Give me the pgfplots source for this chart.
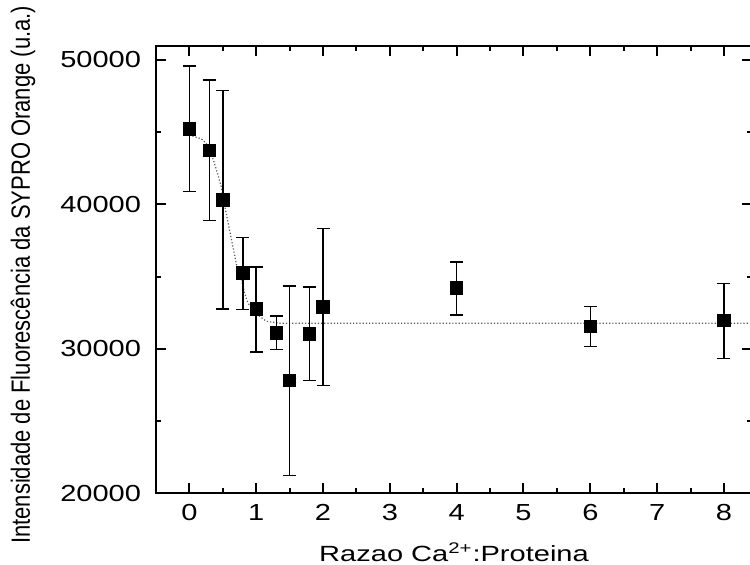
\documentclass[border=0pt]{standalone}
\usepackage{pgfplots}
\pgfplotsset{compat=1.18}
\usepackage{pgfplotstable}
\usepackage{fontspec}
\setmainfont{Liberation Sans}
\newfontfamily\tickfont[FakeStretch=1.25]{Liberation Sans}
\newfontfamily\xlabfont[FakeStretch=1.32]{Liberation Sans}
\usetikzlibrary{calc}

\pgfplotstableread{
x    y      ep    em
0    45230  4360  4340
0.3  43750  4850  4880
0.5  40320  7560  7560
0.8  35250  2460  2540
1.0  32760  2900  2980
1.3  31100  1150  1150
1.5  27800  6550  6570
1.8  31030  3230  3230
2.0  32900  5440  5440
4    34210  1800  1870
6    31560  1360  1410
8    31950  2580  2630
}\datatable

\pgfplotstableread{
x     y
0     44800
0.175 44540
0.25  44240
0.35  43200
0.42  42160
0.475 41240
0.54  39630
0.6   38240
0.66  36860
0.71  35700
0.78  34790
0.825 33860
0.875 33170
0.95  32700
1.05  32250
1.15  31900
1.35  31760
8.42  31760
}\fittable

\begin{document}
\begin{tikzpicture}
\begin{axis}[
  scale only axis,
  width=298pt, height=223.5pt,
  xmin=-0.5, xmax=8.42,
  ymin=20000, ymax=50970,
  xtick={0,1,...,8},
  ytick={20000,30000,40000,50000},
  minor x tick num=1,
  minor y tick num=1,
  scaled y ticks=false,
  /pgf/number format/assume math mode=true,
  yticklabel style={/pgf/number format/fixed, /pgf/number format/1000 sep={}, font=\tickfont\fontsize{11.6}{13}\selectfont, xshift=-4pt},
  xticklabel style={font=\tickfont\fontsize{11.6}{13}\selectfont, yshift=-2pt},
  tick align=inside,
  major tick length=5pt,
  minor tick length=2.5pt,
  tick style={black, line width=1pt},
  axis line style={line width=1pt},
  xlabel={\xlabfont Razao Ca\textsuperscript{2+}:Proteina},
  xlabel style={font=\fontsize{11}{12}\selectfont, at={(axis description cs:0.5,-0.153)}, anchor=base},
  ylabel={\scalebox{1}[1.2]{Intensidade de Fluoresc\^encia da SYPRO Orange (u.a.)}},
  ylabel style={font=\fontsize{11}{12}\selectfont, at={(axis description cs:-0.2232,0.488)}, anchor=center},
]
\addplot[densely dotted, line width=0.6pt, gray!70!black] table[x=x,y=y] {\fittable};
\addplot[only marks, mark=square*, mark size=3.1pt, black,
  error bars/.cd, y dir=both, y explicit,
  error bar style={line width=0.75pt, black},
  error mark options={rotate=90, mark size=3.25pt, line width=0.75pt, black}]
  table[x=x, y=y, y error plus=ep, y error minus=em] {\datatable};
\coordinate (SW) at (rel axis cs:0,0);
\coordinate (NE) at (rel axis cs:1,1);
\end{axis}
\pgfresetboundingbox
\path[use as bounding box] ($(SW)+(-78pt,-35.5pt)$) rectangle ($(NE)+(-1pt,23pt)$);
\end{tikzpicture}
\end{document}
